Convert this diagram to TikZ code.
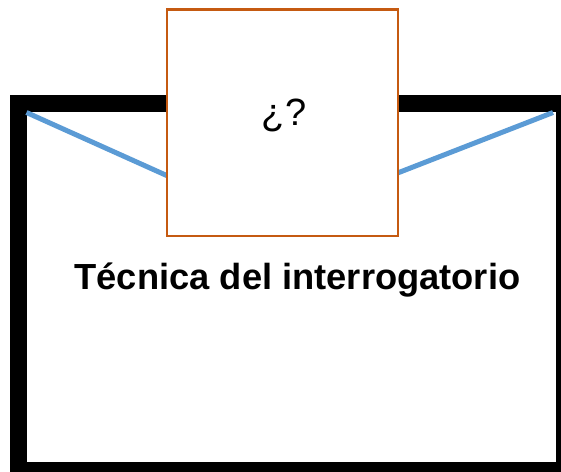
\documentclass[tikz,border=0pt]{standalone}
\usepackage{fontspec}
\setmainfont{Liberation Sans}
\definecolor{boxorange}{RGB}{197,90,17}
\definecolor{lineblue}{RGB}{91,155,213}
\begin{document}
\begin{tikzpicture}[x=1pt,y=-1pt,
  frame/.style={draw=black,line width=16.5pt},
  wire/.style={draw=lineblue,line width=5pt},
  qbox/.style={draw=boxorange,fill=white,line width=2.3pt,minimum width=231pt,minimum height=226.5pt,inner sep=0pt},
  label/.style={inner sep=0pt,anchor=base}]
\useasboundingbox (0,0) rectangle (561,471);
\clip (0,0) rectangle (561,471);
\path[frame] (18.3,103.5) rectangle (564.5,470.5);
\coordinate (tl) at (26.5,112.5);
\coordinate (tr) at (553,112.5);
\coordinate (ql) at (170,177);
\coordinate (qr) at (395,174);
\path[wire] (tl) -- (ql);
\path[wire] (tr) -- (qr);
\node[qbox] (q) at (282.5,122.75) {};
\node[label,font=\fontsize{38}{38}\selectfont] (qm) at (284,125) {¿?};
\node[label,font=\bfseries\fontsize{36.3}{36.3}\selectfont] (title) at (297.5,289) {Técnica del interrogatorio};
\end{tikzpicture}
\end{document}
